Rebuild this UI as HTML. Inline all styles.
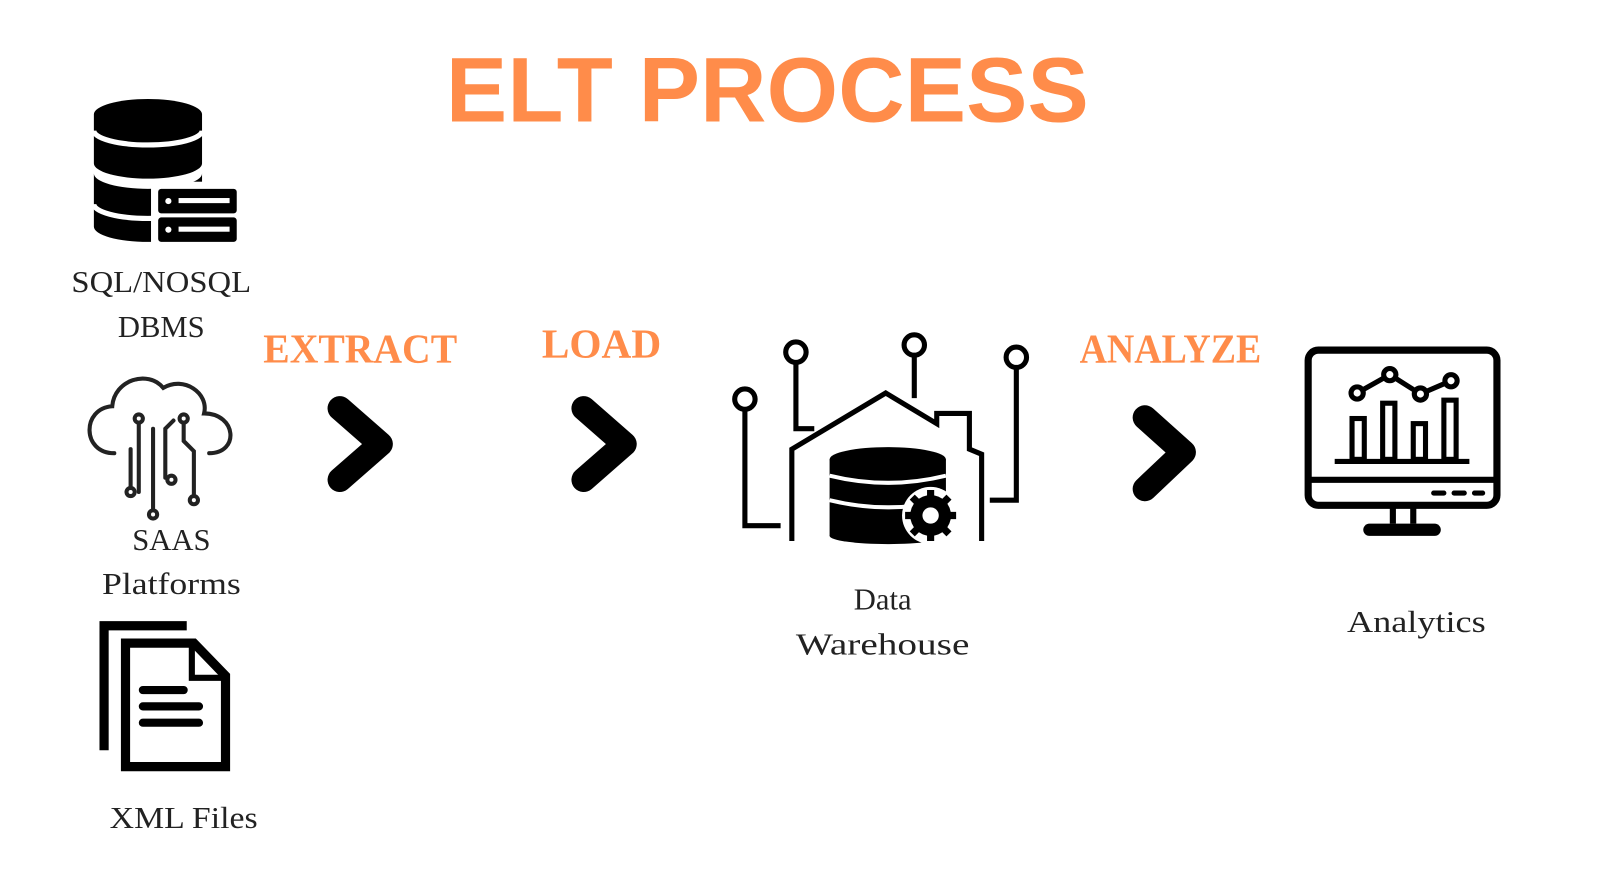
<!DOCTYPE html>
<html><head><meta charset="utf-8"><style>
html,body{margin:0;padding:0;background:#fff;}
svg{display:block}
</style></head><body>
<svg width="1600" height="884" viewBox="0 0 1568 866" preserveAspectRatio="none" xmlns="http://www.w3.org/2000/svg">
<rect width="1568" height="866" fill="#fff"/>
<text x="752" y="119" text-anchor="middle" font-family="Liberation Sans, sans-serif" font-weight="bold" font-size="90" fill="#FF8C4A" textLength="630" lengthAdjust="spacing">ELT PROCESS</text>

<!-- DB icon -->
<g fill="#000">
<path d="M92 112 A53 15 0 0 1 198 112 V160 A53 15 0 0 1 92 160 Z"/>
<path d="M92 128 A53 14 0 0 0 198 128" stroke="#fff" stroke-width="5" fill="none"/>
<path d="M92 170 A53 15 0 0 0 198 170 V222 A53 15 0 0 1 92 222 Z"/>
<path d="M92 200 A53 14 0 0 0 198 200" stroke="#fff" stroke-width="5" fill="none"/>
<rect x="148" y="178" width="92" height="66" fill="#fff"/>
<rect x="155" y="185" width="77" height="24" rx="3"/>
<rect x="155" y="213" width="77" height="24" rx="3"/>
<rect x="175" y="194" width="50" height="5" fill="#fff"/>
<rect x="175" y="222" width="50" height="5" fill="#fff"/>
<circle cx="165" cy="197" r="3" fill="#fff"/>
<circle cx="165" cy="225" r="3" fill="#fff"/>
</g>
<g font-family="Liberation Serif, serif" font-size="30" fill="#222" text-anchor="middle">
<text x="158" y="286" textLength="176" lengthAdjust="spacingAndGlyphs">SQL/NOSQL</text>
<text x="158" y="330">DBMS</text>
<text x="168" y="539">SAAS</text>
<text x="168" y="582" textLength="136" lengthAdjust="spacingAndGlyphs">Platforms</text>
<text x="180" y="811" textLength="145" lengthAdjust="spacingAndGlyphs">XML Files</text>
<text x="865" y="597">Data</text>
<text x="865" y="641" textLength="170" lengthAdjust="spacingAndGlyphs">Warehouse</text>
<text x="1388" y="619" textLength="136" lengthAdjust="spacingAndGlyphs">Analytics</text>
</g>
<g font-family="Liberation Serif, serif" font-weight="bold" font-size="40" fill="#FF8C4A">
<text x="258" y="355" textLength="190" lengthAdjust="spacingAndGlyphs">EXTRACT</text>
<text x="531" y="350" textLength="117" lengthAdjust="spacingAndGlyphs">LOAD</text>
<text x="1058" y="355" textLength="178" lengthAdjust="spacingAndGlyphs">ANALYZE</text>
</g>

<!-- cloud -->
<g fill="none" stroke="#222" stroke-width="4" stroke-linecap="round">
<path d="M112 444 C80 444 80 400 110 398 C112 372 145 362 160 380 C180 368 205 385 200 405 C232 405 235 444 205 444"/>
<path d="M136 410 v72 M150 420 v82 M170 412 l-8 8 v48 M180 412 v20 l10 10 v42 M128 440 v38"/>
<circle cx="136" cy="410" r="4" fill="#fff"/><circle cx="180" cy="410" r="4" fill="#fff"/>
<circle cx="128" cy="482" r="4" fill="#fff"/><circle cx="150" cy="504" r="4" fill="#fff"/>
<circle cx="168" cy="470" r="4" fill="#fff"/><circle cx="190" cy="490" r="4" fill="#fff"/>
</g>

<!-- doc icon -->
<g fill="none" stroke="#000" stroke-width="9">
<path d="M102 735 V613 H183"/>
<path d="M123 630 H190 L221 662 V751 H123 Z"/>
<path d="M188 632 V664 H219" stroke-width="6"/>
<path d="M140 676 h40 M140 692 h55 M140 708 h55" stroke-linecap="round" stroke-width="8"/>
</g>

<!-- chevrons -->
<g fill="none" stroke="#000" stroke-width="24" stroke-linecap="round" stroke-linejoin="round">
<path d="M333 400 L373 435 L333 470"/>
<path d="M572 400 L612 435 L572 470"/>
<path d="M1122 409 L1160 443 L1122 479"/>
</g>

<!-- warehouse -->
<g fill="none" stroke="#000" stroke-width="5">
<path d="M776 530 V440 L868 385 L918 415 V405 H950 V440 L962 445 V530"/>
<path d="M730 400 V515 H765"/>
<path d="M780 355 V420 H798"/>
<path d="M896 348 V390"/>
<path d="M996 360 V490 H970"/>
<circle cx="730" cy="391" r="10" fill="#fff"/>
<circle cx="780" cy="345" r="10" fill="#fff"/>
<circle cx="896" cy="338" r="10" fill="#fff"/>
<circle cx="996" cy="350" r="10" fill="#fff"/>
</g>
<g fill="#000">
<ellipse cx="870" cy="450" rx="57" ry="12"/>
<rect x="813" y="450" width="114" height="75"/>
<ellipse cx="870" cy="525" rx="57" ry="8"/>
<path d="M813 466 q57 14 114 0 M813 490 q57 14 114 0" stroke="#fff" stroke-width="4" fill="none"/>
<circle cx="912" cy="505" r="28" fill="#fff"/>
<circle cx="912" cy="505" r="20"/>
<g stroke="#000" stroke-width="7"><path d="M912 480 v50 M887 505 h50 M894 487 l36 36 M930 487 l-36 36"/></g>
<circle cx="912" cy="505" r="8" fill="#fff"/>
</g>

<!-- monitor -->
<g fill="none" stroke="#000">
<rect x="1282" y="343" width="185" height="152" rx="10" stroke-width="7"/>
<path d="M1282 470 H1467" stroke-width="6"/>
<path d="M1405 483 h10 M1425 483 h10 M1445 483 h8" stroke-width="5" stroke-linecap="round"/>
<path d="M1365 495 v18 M1385 495 v18" stroke-width="6"/>
<rect x="1336" y="513" width="76" height="12" rx="6" fill="#000" stroke="none"/>
<path d="M1308 452 H1440" stroke-width="5"/>
<g stroke-width="5"><rect x="1325" y="410" width="12" height="40"/><rect x="1355" y="395" width="12" height="55"/><rect x="1385" y="415" width="12" height="35"/><rect x="1415" y="392" width="12" height="58"/></g>
<path d="M1330 385 L1362 367 L1392 386 L1422 373" stroke-width="5"/>
<circle cx="1330" cy="385" r="6" fill="#fff" stroke-width="5"/>
<circle cx="1362" cy="367" r="6" fill="#fff" stroke-width="5"/>
<circle cx="1392" cy="386" r="6" fill="#fff" stroke-width="5"/>
<circle cx="1422" cy="373" r="6" fill="#fff" stroke-width="5"/>
</g>
</svg>
</body></html>
